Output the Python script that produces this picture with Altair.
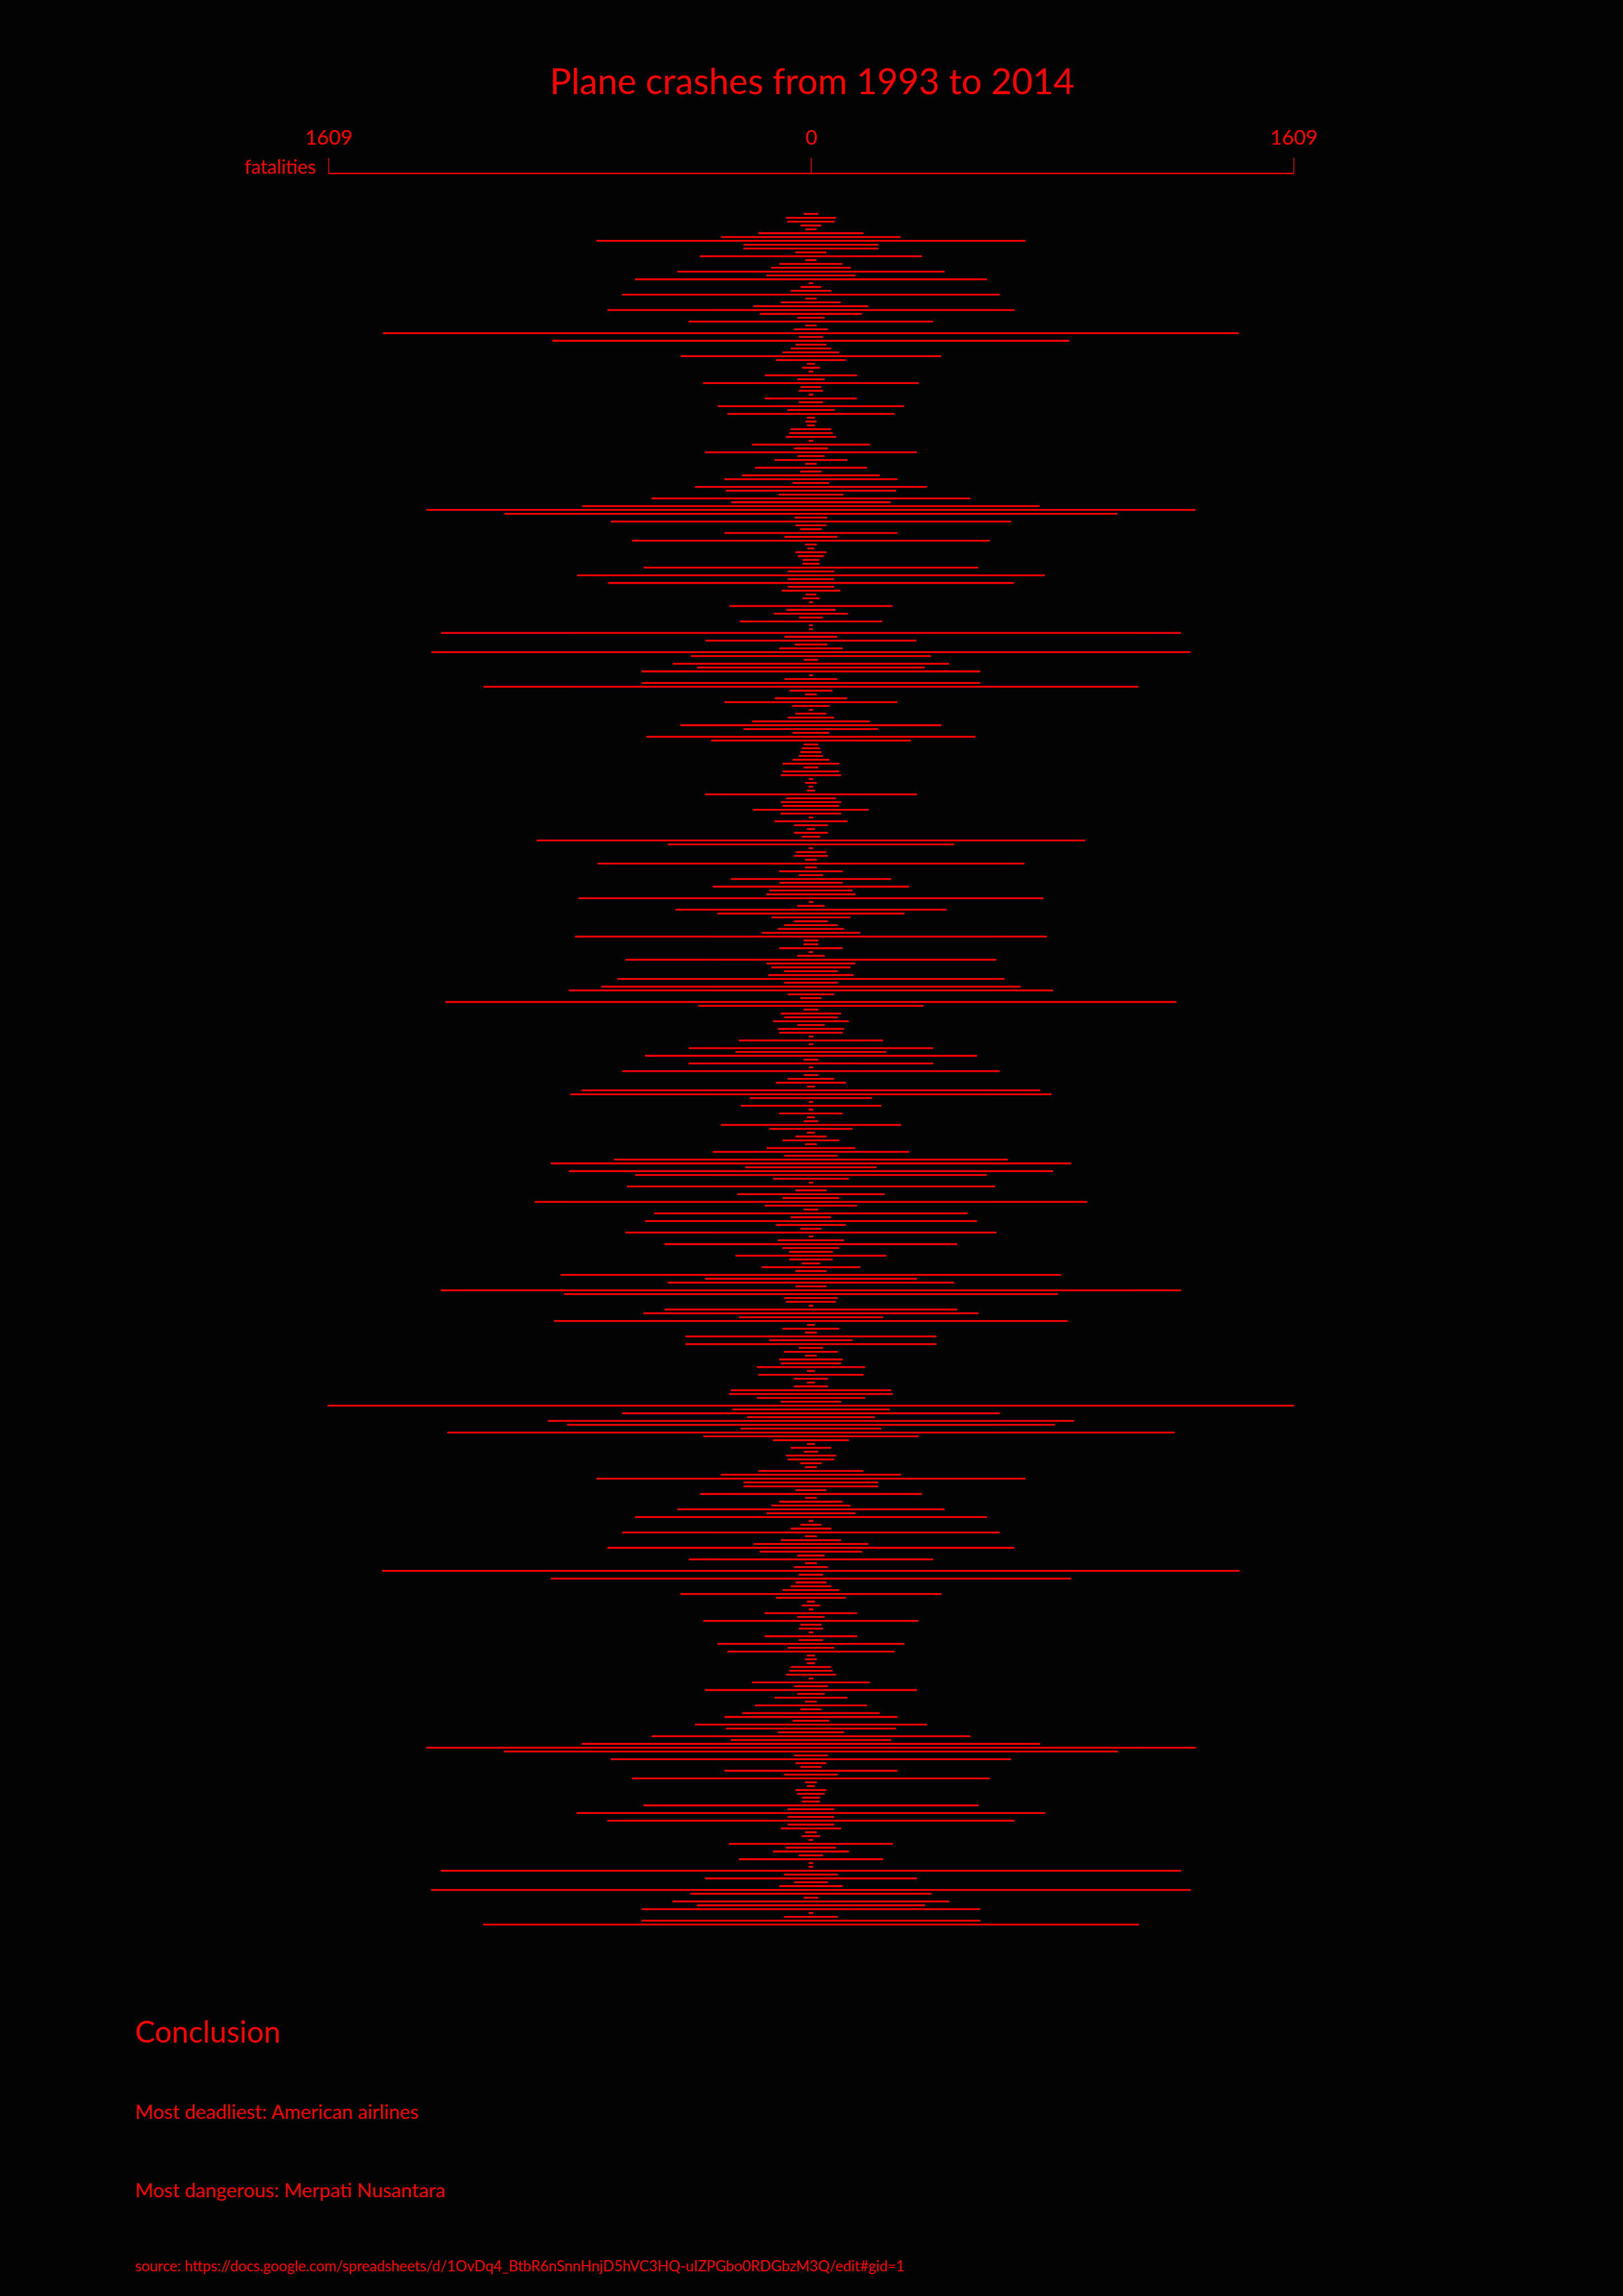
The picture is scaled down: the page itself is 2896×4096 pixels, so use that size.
import altair as alt
import pandas as pd

# Fatalities per crash, read top to bottom (each line is drawn from -value to +value)
crashes_part1 = [22, 81, 76, 32, 16, 173, 297, 713, 222, 222, 49, 368, 16, 103, 130, 443, 146, 584, 5, 32,
                 65, 627, 16, 97, 189, 676, 168, 43, 405, 16, 54, 1424, 38, 860, 49, 65, 92, 432, 114, 11,
                 27, 5, 151, 43, 357, 32, 38, 5, 151, 38, 308, 76, 276, 11, 16, 11, 65, 70, 81, 5,
                 194, 54, 351, 43, 119, 16, 184, 33, 227, 286, 59, 384, 281, 106, 529, 263, 760, 1280, 1020, 52,
                 665, 49, 34, 286, 86, 594, 17, 9, 49, 41, 26, 26, 555, 75, 777, 75, 674, 75, 95, 15]
crashes_part2 = [26, 4, 269, 80, 121, 37, 235, 4, 4, 1231, 86, 349, 52, 103, 1263, 398, 21, 458, 377, 562,
                 4, 86, 562, 1089, 69, 17, 118, 286, 60, 4, 49, 75, 194, 433, 222, 59, 546, 330, 22, 28,
                 33, 38, 59, 92, 22, 92, 98, 5, 17, 5, 11, 351, 81, 98, 92, 190, 98, 5, 119, 54,
                 11, 54, 28, 912, 475, 5, 49, 54, 17, 709, 17, 103, 38, 265, 103, 325, 136, 146, 773, 5,
                 43, 449, 309, 129, 54, 87, 108, 162, 784, 22, 22, 103, 5, 43, 616, 146, 129, 87, 140, 643]
crashes_part3 = [87, 697, 805, 75, 33, 1216, 373, 22, 98, 87, 124, 43, 108, 103, 5, 238, 5, 405, 249, 551,
                 22, 405, 5, 627, 22, 75, 114, 11, 762, 800, 201, 5, 232, 5, 103, 11, 22, 298, 136, 11,
                 49, 92, 17, 146, 325, 87, 654, 865, 216, 805, 584, 124, 5, 611, 49, 243, 92, 919, 152, 22,
                 520, 65, 551, 114, 33, 616, 5, 108, 486, 92, 70, 249, 70, 28, 162, 49, 832, 351, 475, 49,
                 1232, 821, 87, 81, 5, 486, 556, 238, 854, 11, 92, 17, 416, 136, 416, 38, 87, 17, 103, 98]
crashes_part4 = [178, 11, 173, 54, 11, 54, 265, 271, 178, 98, 1609, 260, 627, 211, 875, 811, 232, 1210, 356, 124,
                 11, 65, 22, 81, 75, 33, 17, 173, 298, 713, 222, 222, 49, 367, 17, 103, 129, 443, 146, 584,
                 5, 33, 65, 627, 17, 98, 189, 676, 168, 43, 405, 17, 54, 1427, 38, 865, 49, 65, 92, 433,
                 114, 11, 28, 5, 152, 43, 356, 33, 38, 5, 152, 38, 309, 75, 276, 11, 17, 11, 65, 70,
                 81, 5, 194, 54, 351, 43, 119, 17, 184, 33, 227, 286, 59, 384, 281, 108, 529, 265, 762, 1281]
crashes_part5 = [1021, 54, 665, 49, 33, 286, 87, 594, 17, 11, 49, 43, 28, 28, 556, 75, 779, 75, 676, 75,
                 98, 17, 28, 5, 271, 81, 124, 38, 238, 5, 5, 1232, 87, 351, 54, 103, 1264, 400, 22, 459,
                 378, 562, 5, 87, 562, 1091]

fatalities = crashes_part1 + crashes_part2 + crashes_part3 + crashes_part4 + crashes_part5

axis_ticks = [-1609, 0, 1609]
title_text = ["Plane crashes from 1993 to 2014"]
conclusion_head = ["Conclusion"]
conclusion_lines = ["Most deadliest: American airlines", "Most dangerous: Merpati Nusantara"]
source_text = ["source: https://docs.google.com/spreadsheets/d/1OvDq4_BtbR6nSnnHnjD5hVC3HQ-uIZPGbo0RDGbzM3Q/edit#gid=1"]

RED = "#ff0000"
BG = "#030304"
FONT = "Lato"

df = pd.DataFrame({"crash": list(range(len(fatalities))), "fatalities": fatalities})
df["left"] = -df["fatalities"]

x_scale = alt.Scale(domain=[-1609, 1609], nice=False, zero=False)
y_scale = alt.Scale(domain=[-10.6, 455.6], reverse=True, nice=False, zero=False)

lines = alt.Chart(df).mark_rule(color=RED, strokeWidth=3.3, strokeCap="round").encode(
    x=alt.X("left:Q", scale=x_scale, axis=alt.Axis(
        orient="top", values=axis_ticks, labelExpr="format(abs(datum.value), 'd')",
        labelFont=FONT, labelFontSize=36.5, labelColor=RED, labelBaseline="alphabetic",
        labelPadding=24, labelAlign="center", labelFlush=False, labelOverlap=False,
        domainColor=RED, domainWidth=2.4, tickColor=RED, tickWidth=1.5, tickSize=28,
        grid=False, title="fatalities", titleFont=FONT, titleFontSize=34,
        titleFontWeight="normal", titleColor=RED, titleAngle=0, titleAlign="right",
        titleBaseline="alphabetic", titleX=-23, titleY=0)),
    x2="fatalities:Q",
    y=alt.Y("crash:Q", scale=y_scale, axis=None),
)

def text_layer(texts, size, x, y, align="left"):
    d = pd.DataFrame({"t": texts, "row": list(range(len(texts)))})
    return alt.Chart(d).mark_text(
        font=FONT, fontSize=size, color=RED, align=align, baseline="alphabetic"
    ).encode(text="t:N", x=alt.value(x), y=alt.value(y))

title = text_layer(title_text, 64, 863, -141.5, align="center")
concl = text_layer(conclusion_head, 53.5, -345, 3335)
line1 = text_layer(conclusion_lines[:1], 35, -345, 3471)
line2 = text_layer(conclusion_lines[1:], 35, -345, 3611)
src = text_layer(source_text, 26, -345, 3743)

chart = alt.layer(lines, title, concl, line1, line2, src).properties(
    width=1722, height=3197,
    autosize=alt.AutoSizeParams(type="none"),
    padding={"left": 586, "top": 309, "right": 588, "bottom": 590},
    background=BG,
).configure_view(strokeWidth=0)

chart.save("out.html", embed_options={"renderer": "svg", "actions": False})
